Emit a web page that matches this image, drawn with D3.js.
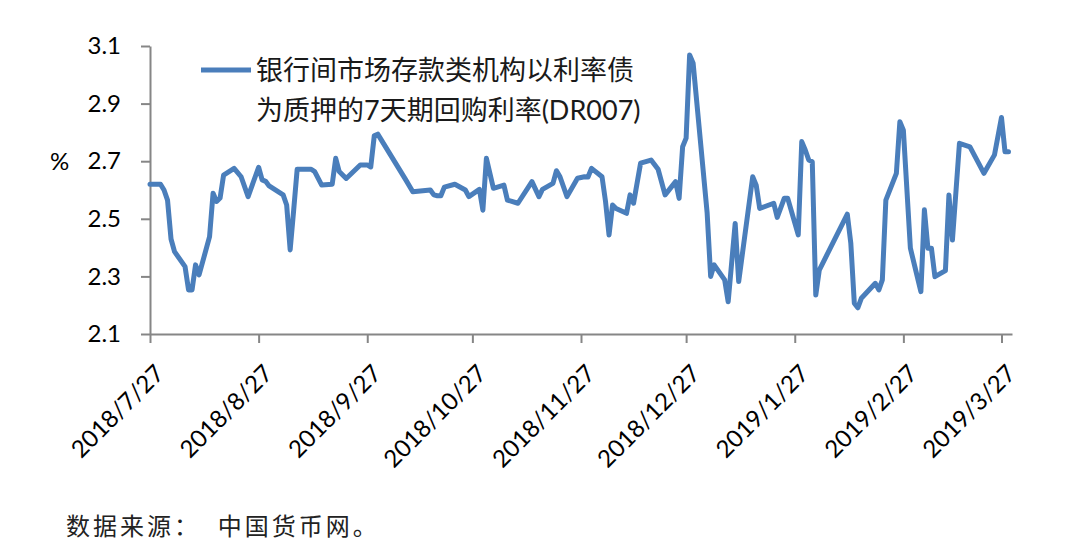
<!DOCTYPE html>
<html>
<head>
<meta charset="utf-8">
<script src="https://cdn.jsdelivr.net/npm/d3@7"></script>
<style>
  body { margin: 0; background: #fff; }
  svg { display: block; }
</style>
</head>
<body>
<div id="plot"></div>
<script>
// DR007 daily values
const dates = [
  "2018-07-27","2018-07-30","2018-07-31","2018-08-01","2018-08-02","2018-08-03","2018-08-06","2018-08-07","2018-08-08","2018-08-09",
  "2018-08-10","2018-08-13","2018-08-14","2018-08-15","2018-08-16","2018-08-17","2018-08-20","2018-08-22","2018-08-24","2018-08-27",
  "2018-08-28","2018-08-29","2018-08-30","2018-09-03","2018-09-04","2018-09-05","2018-09-06","2018-09-07","2018-09-11","2018-09-12",
  "2018-09-14","2018-09-17","2018-09-18","2018-09-19","2018-09-21","2018-09-25","2018-09-27","2018-09-28","2018-09-29","2018-09-30",
  "2018-10-08","2018-10-10","2018-10-15","2018-10-16","2018-10-17","2018-10-18","2018-10-19","2018-10-22","2018-10-25","2018-10-26",
  "2018-10-29","2018-10-30","2018-10-31","2018-11-02","2018-11-05","2018-11-06","2018-11-09","2018-11-13","2018-11-15","2018-11-16",
  "2018-11-19","2018-11-20","2018-11-21","2018-11-23","2018-11-26","2018-11-28","2018-11-29","2018-11-30","2018-12-03","2018-12-04",
  "2018-12-05","2018-12-06","2018-12-07","2018-12-10","2018-12-11","2018-12-12","2018-12-14","2018-12-17","2018-12-19","2018-12-21",
  "2018-12-24","2018-12-25","2018-12-26","2018-12-27","2018-12-28","2018-12-29","2019-01-02","2019-01-03","2019-01-04","2019-01-07",
  "2019-01-08","2019-01-10","2019-01-11","2019-01-15","2019-01-16","2019-01-17","2019-01-21","2019-01-22","2019-01-24","2019-01-25",
  "2019-01-28","2019-01-29","2019-01-30","2019-01-31","2019-02-01","2019-02-02","2019-02-03","2019-02-11","2019-02-12","2019-02-13",
  "2019-02-14","2019-02-15","2019-02-19","2019-02-20","2019-02-21","2019-02-22","2019-02-25","2019-02-26","2019-02-27","2019-03-01",
  "2019-03-04","2019-03-05","2019-03-06","2019-03-07","2019-03-08","2019-03-11","2019-03-12","2019-03-13","2019-03-15","2019-03-18",
  "2019-03-22","2019-03-25","2019-03-27","2019-03-28","2019-03-29"
];
const rates = [
  2.62, 2.62, 2.60, 2.565, 2.43, 2.386, 2.334, 2.253, 2.253, 2.34,
  2.305, 2.438, 2.589, 2.56, 2.572, 2.652, 2.675, 2.646, 2.577, 2.679,
  2.635, 2.63, 2.614, 2.583, 2.548, 2.392, 2.53, 2.672, 2.672, 2.664,
  2.617, 2.62, 2.71, 2.664, 2.64, 2.687, 2.687, 2.68, 2.788, 2.794,
  2.635, 2.594, 2.60, 2.583, 2.58, 2.58, 2.61, 2.62, 2.60, 2.577,
  2.602, 2.53, 2.71, 2.606, 2.617, 2.565, 2.554, 2.629, 2.577, 2.602,
  2.623, 2.667, 2.646, 2.577, 2.641, 2.646, 2.645, 2.675, 2.646, 2.56,
  2.444, 2.548, 2.536, 2.519, 2.583, 2.554, 2.693, 2.704, 2.672, 2.583,
  2.629, 2.571, 2.75, 2.78, 3.069, 3.04, 2.52, 2.30, 2.34, 2.288,
  2.212, 2.484, 2.282, 2.646, 2.617, 2.536, 2.554, 2.505, 2.571, 2.571,
  2.444, 2.768, 2.739, 2.704, 2.698, 2.235, 2.322, 2.516, 2.415, 2.207,
  2.191, 2.224, 2.276, 2.253, 2.288, 2.565, 2.658, 2.837, 2.808, 2.398,
  2.247, 2.531, 2.398, 2.398, 2.299, 2.32, 2.583, 2.426, 2.762, 2.75,
  2.658, 2.722, 2.852, 2.733, 2.733
];

const xTickDates = ["2018-07-27","2018-08-27","2018-09-27","2018-10-27","2018-11-27","2018-12-27","2019-01-27","2019-02-27","2019-03-27"];
const xTickLabels = ["2018/7/27","2018/8/27","2018/9/27","2018/10/27","2018/11/27","2018/12/27","2019/1/27","2019/2/27","2019/3/27"];
const yTicks = [2.1, 2.3, 2.5, 2.7, 2.9, 3.1];

const legendLines = ["银行间市场存款类机构以利率债", "为质押的7天期回购利率(DR007)"];
const sourceNote = "数据来源：  中国货币网。";

const parseDate = d3.timeParse("%Y-%m-%d");
const data = dates.map((d, i) => ({ date: parseDate(d), value: rates[i] }));

const width = 1080;
const height = 541;
const plot = { left: 150, right: 1012, top: 46, bottom: 334 };
const axisColor = "#868686";
const lineColor = "#4a7ebb";
const latin = "Lato, 'Noto Sans CJK SC', sans-serif";

const svg = d3.select("#plot")
  .append("svg")
  .attr("width", width)
  .attr("height", height);

const x = d3.scaleTime()
  .domain([parseDate("2018-07-27"), parseDate("2019-03-30")])
  .range([plot.left, plot.right]);

const y = d3.scaleLinear()
  .domain([2.1, 3.1])
  .range([plot.bottom, plot.top]);

// y axis
const yAxis = svg.append("g")
  .attr("transform", `translate(${plot.left},0)`)
  .call(d3.axisLeft(y).tickValues(yTicks).tickFormat(d3.format(".1f")).tickSize(9).tickSizeOuter(0).tickPadding(20));
yAxis.select(".domain").attr("stroke", axisColor).attr("stroke-width", 2);
yAxis.selectAll(".tick line").attr("stroke", axisColor).attr("stroke-width", 2);
yAxis.selectAll(".tick text")
  .attr("fill", "#000")
  .style("font-family", latin)
  .style("font-size", "24px");

svg.append("text")
  .attr("x", 50)
  .attr("y", y(2.7))
  .attr("dy", "0.35em")
  .style("font-family", latin)
  .style("font-size", "24px")
  .text("%");

// x axis
const xTickValues = xTickDates.map(parseDate);
const xAxis = svg.append("g")
  .attr("transform", `translate(0,${plot.bottom})`)
  .call(d3.axisBottom(x).tickValues(xTickValues)
    .tickFormat((d, i) => xTickLabels[i]).tickSize(9).tickSizeOuter(0));
xAxis.select(".domain").attr("stroke", axisColor).attr("stroke-width", 2);
xAxis.selectAll(".tick line").attr("stroke", axisColor).attr("stroke-width", 2);
xAxis.selectAll(".tick text")
  .attr("fill", "#000")
  .attr("y", 0)
  .attr("dy", 0)
  .attr("transform", "translate(15,41) rotate(-45)")
  .style("text-anchor", "end")
  .style("font-family", latin)
  .style("font-size", "24px");

// the series
const line = d3.line()
  .x(d => x(d.date))
  .y(d => y(d.value));

svg.append("path")
  .datum(data)
  .attr("fill", "none")
  .attr("stroke", lineColor)
  .attr("stroke-width", 5)
  .attr("stroke-linejoin", "round")
  .attr("stroke-linecap", "round")
  .attr("d", line);

// legend
svg.append("line")
  .attr("x1", 201).attr("x2", 251)
  .attr("y1", 70).attr("y2", 70)
  .attr("stroke", lineColor)
  .attr("stroke-width", 5);

svg.append("g")
  .selectAll("text")
  .data(legendLines)
  .enter().append("text")
  .attr("x", 256)
  .attr("y", (d, i) => 80 + i * 40)
  .style("font-family", latin)
  .style("font-size", "27px")
  .attr("fill", "#1a1a1a")
  .text(d => d);

// source
svg.append("text")
  .attr("x", 66)
  .attr("y", 535)
  .style("font-family", "'Noto Sans CJK SC', sans-serif")
  .style("font-size", "24px")
  .style("letter-spacing", "3px")
  .style("white-space", "pre")
  .attr("fill", "#222")
  .text(sourceNote);
</script>
</body>
</html>
